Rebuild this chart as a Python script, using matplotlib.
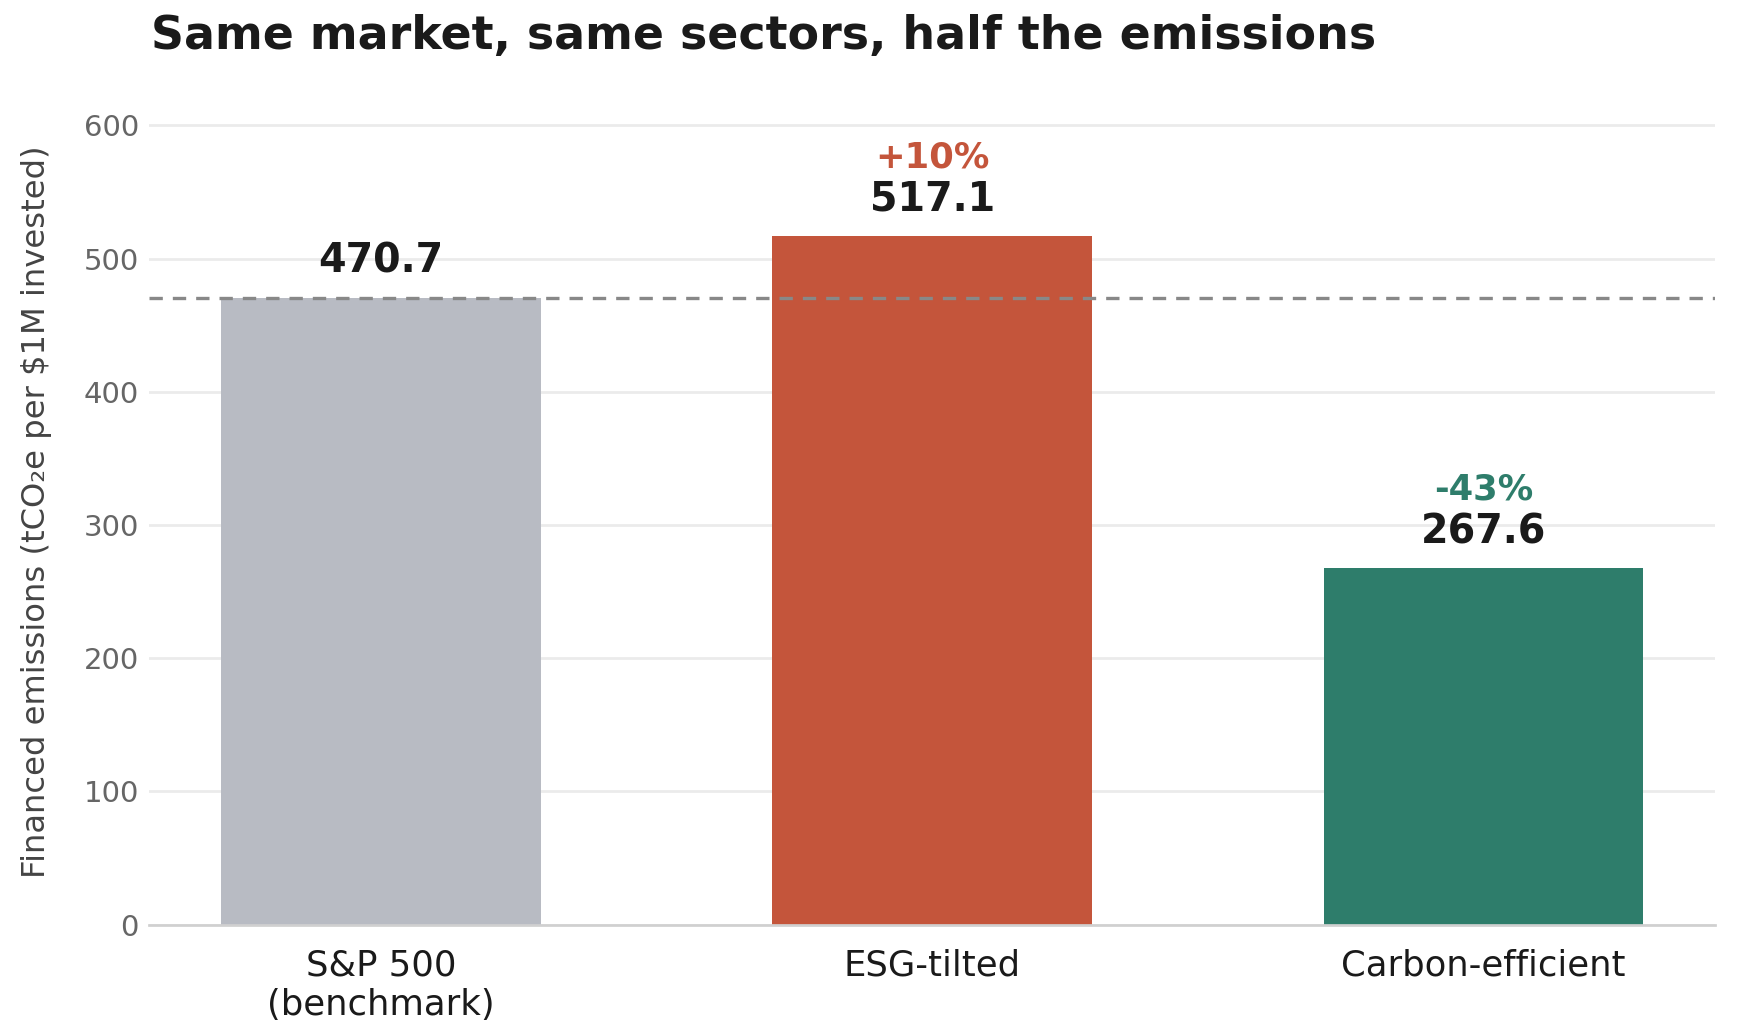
import matplotlib
matplotlib.use("Agg")
import matplotlib.pyplot as plt

# Chart data
categories = ["S&P 500\n(benchmark)", "ESG-tilted", "Carbon-efficient"]
emissions = [470.7, 517.1, 267.6]
pct_labels = ["", "+10%", "-43%"]
bar_colors = ["#b8bbc3", "#c4553b", "#2e7d6b"]
benchmark = emissions[0]

fig = plt.figure(figsize=(1737 / 150, 1033 / 150), dpi=150)
ax = fig.add_axes([0.0860, 0.1049, 0.9014, 0.7995])

x = range(len(categories))
ax.bar(x, emissions, width=0.58, color=bar_colors, zorder=2)
ax.axhline(benchmark, color="#888888", linestyle=(0, (4, 3)), linewidth=1.6, zorder=3)

for i, (val, pct, col) in enumerate(zip(emissions, pct_labels, bar_colors)):
    ax.text(i, val + 12, f"{val:.1f}", ha="center", va="bottom",
            fontsize=19, fontweight="bold", color="#1a1a1a", zorder=4)
    if pct:
        ax.text(i, val + 46, pct, ha="center", va="bottom",
                fontsize=17, fontweight="bold", color=col, zorder=4)

ax.set_xlim(-0.42, 2.42)
ax.set_ylim(0, 620)
ax.set_yticks(range(0, 601, 100))
ax.set_xticks(list(x))
ax.set_xticklabels(categories, fontsize=17, color="#1a1a1a")
ax.tick_params(axis="y", labelsize=14, labelcolor="#666666", length=0, pad=5)
ax.tick_params(axis="x", length=0, pad=11.5)
ax.set_ylabel("Financed emissions (tCO\u2082e per $1M invested)", fontsize=15.5,
              color="#444444", labelpad=15)

ax.grid(axis="y", color="#ebebeb", linewidth=1.3, zorder=0)
ax.set_axisbelow(True)
for side in ["top", "right", "left"]:
    ax.spines[side].set_visible(False)
ax.spines["bottom"].set_color("#d0d0d0")
ax.spines["bottom"].set_linewidth(1.3)

fig.text(0.0869, 0.965, "Same market, same sectors, half the emissions",
         fontsize=22, fontweight="bold", color="#1a1a1a", ha="left", va="center")

fig.savefig("out.png", dpi=150)
